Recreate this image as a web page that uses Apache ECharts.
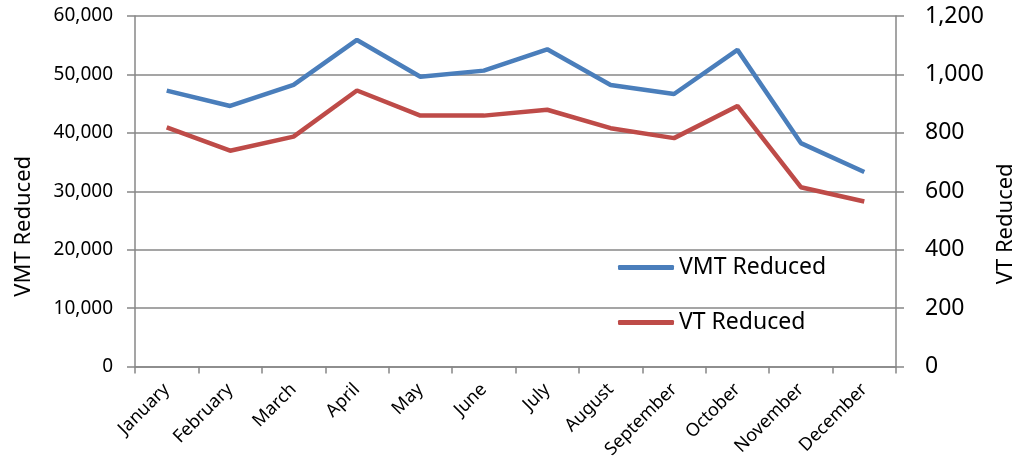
<!DOCTYPE html>
<html>
<head>
<meta charset="utf-8">
<script src="https://cdn.jsdelivr.net/npm/echarts@6/dist/echarts.min.js"></script>
<style>
  html, body { margin: 0; padding: 0; background: #fff; }
  #chart { width: 1030px; height: 461px; }
</style>
</head>
<body>
<div id="chart"></div>
<script>
const months = ['January', 'February', 'March', 'April', 'May', 'June',
  'July', 'August', 'September', 'October', 'November', 'December']
const vmtReduced = [47230, 44600, 48200, 55900, 49600, 50650, 54300, 48200, 46650, 54200, 38250, 33300]
const vtReduced = [819, 739, 787, 945, 859, 859, 879, 816, 782, 892, 614, 565]

const font = 'Noto Sans'
const gridColor = '#878787'

const chart = echarts.init(document.getElementById('chart'))

chart.setOption({
  animation: false,
  textStyle: { fontFamily: font },
  grid: { left: 135, right: 134, top: 16, bottom: 94 },
  legend: {
    orient: 'vertical',
    left: 613,
    top: 251,
    itemWidth: 56,
    itemHeight: 5,
    itemGap: 32,
    icon: 'roundRect',
    textStyle: { fontFamily: font, fontSize: 23, color: '#000' },
    data: ['VMT Reduced', 'VT Reduced']
  },
  xAxis: {
    type: 'category',
    data: months,
    boundaryGap: true,
    axisLine: { lineStyle: { color: gridColor, width: 1.5 } },
    axisTick: { show: true, length: 7, lineStyle: { color: gridColor, width: 1.5 } },
    axisLabel: { rotate: 45, fontSize: 18, color: '#000', margin: 20, interval: 0 }
  },
  yAxis: [
    {
      type: 'value',
      min: 0, max: 60000, interval: 10000,
      name: 'VMT Reduced',
      nameLocation: 'middle',
      nameGap: 100,
      nameTextStyle: { fontSize: 22, color: '#000', padding: [0, 70, 0, 0] },
      axisLine: { show: true, lineStyle: { color: gridColor, width: 1.5 } },
      axisTick: { show: true, length: 8, lineStyle: { color: gridColor, width: 1.5 } },
      splitLine: { lineStyle: { color: gridColor, width: 1.5 } },
      axisLabel: {
        fontSize: 19, color: '#000', margin: 22,
        formatter: v => v.toLocaleString('en-US')
      }
    },
    {
      type: 'value',
      min: 0, max: 1200, interval: 200,
      name: 'VT Reduced',
      nameLocation: 'middle',
      nameGap: 99,
      nameTextStyle: { fontSize: 22, color: '#000', padding: [0, 65, 0, 0] },
      axisLine: { show: true, lineStyle: { color: gridColor, width: 1.5 } },
      axisTick: { show: true, length: 8, lineStyle: { color: gridColor, width: 1.5 } },
      splitLine: { show: false },
      axisLabel: {
        fontSize: 23, color: '#000', margin: 29,
        formatter: v => v.toLocaleString('en-US')
      }
    }
  ],
  series: [
    {
      name: 'VMT Reduced',
      type: 'line',
      yAxisIndex: 0,
      data: vmtReduced,
      showSymbol: false,
      color: '#4a7ebb',
      lineStyle: { color: '#4a7ebb', width: 4.5 }
    },
    {
      name: 'VT Reduced',
      type: 'line',
      yAxisIndex: 1,
      data: vtReduced,
      showSymbol: false,
      color: '#be4b48',
      lineStyle: { color: '#be4b48', width: 4.5 }
    }
  ]
})
</script>
</body>
</html>
